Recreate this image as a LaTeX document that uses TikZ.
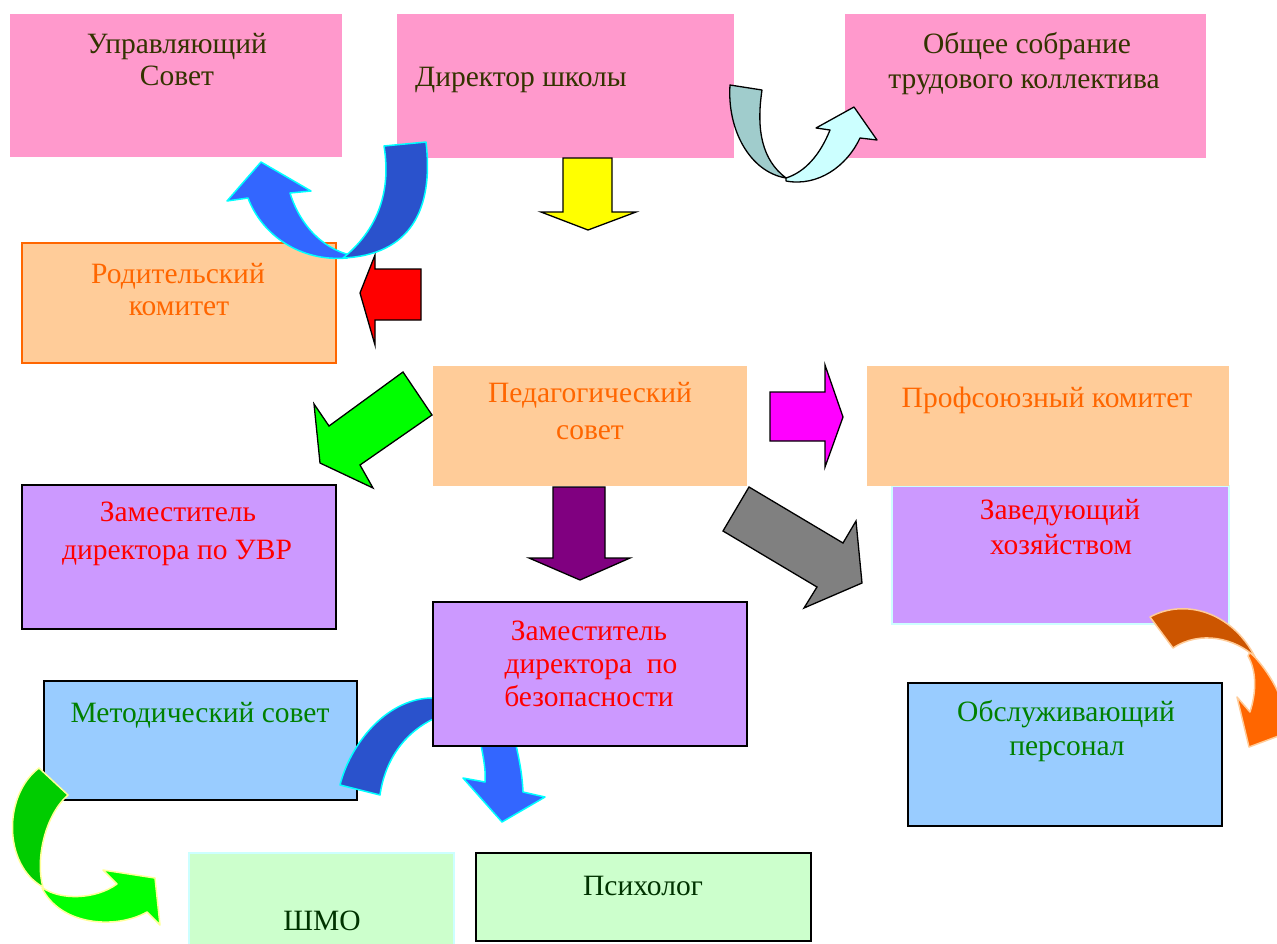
\documentclass[tikz,border=0pt]{standalone}
\usepackage{fontspec}
\setmainfont{Liberation Serif}
\definecolor{pinkc}{HTML}{FF99CC}
\definecolor{peach}{HTML}{FFCC99}
\definecolor{orangec}{HTML}{FF6600}
\definecolor{lav}{HTML}{CC99FF}
\definecolor{lblue}{HTML}{99CCFF}
\definecolor{pgreen}{HTML}{CCFFCC}
\definecolor{palecyan}{HTML}{CCFFFF}
\definecolor{olivetx}{HTML}{333300}
\definecolor{greentx}{HTML}{008000}
\definecolor{dgreentx}{HTML}{003300}
\definecolor{redc}{HTML}{FF0000}
\definecolor{darkblue}{HTML}{2A52CC}
\definecolor{brightblue}{HTML}{3366FF}
\definecolor{cyanc}{HTML}{00FFFF}
\definecolor{tealc}{HTML}{A0CCCC}
\definecolor{greenc}{HTML}{00FF00}
\definecolor{darkgreenarr}{HTML}{00CC00}
\definecolor{paleyellow}{HTML}{FFFF99}
\definecolor{yellowc}{HTML}{FFFF00}
\definecolor{magentac}{HTML}{FF00FF}
\definecolor{darkorange}{HTML}{CC5500}
\definecolor{purplec}{HTML}{800080}
\definecolor{grayc}{HTML}{808080}
\begin{document}
\begin{tikzpicture}[x=1pt,y=-1pt,
  box/.style={rectangle, inner sep=0pt, outer sep=0pt, anchor=north west, line width=1.5pt},
  tx/.style={anchor=base, inner sep=0pt, font=\fontsize{29.5}{34}\selectfont},
  blockarrow/.style={draw=black, line width=1.3pt, line join=miter},
  curvecyan/.style={draw=cyanc, line width=1.5pt, line join=round},
  curveblack/.style={draw=black, line width=1.3pt, line join=round},
  curveyellow/.style={draw=paleyellow, line width=1.5pt, line join=round},
  curvepeach/.style={draw=peach, line width=1.5pt, line join=round}]
\useasboundingbox (0,0) rectangle (1277,943);
\clip (0,0) rectangle (1277,943);
\fill[white] (0,0) rectangle (1277,943);

% top row
\node[box, fill=pinkc, minimum width=332, minimum height=143] (upr) at (10,14) {};
\node[box, fill=pinkc, minimum width=337, minimum height=144] (dir) at (397,14) {};
\node[box, fill=pinkc, minimum width=361, minimum height=144] (obsh) at (845,14) {};
\node[tx, text=olivetx] (upr1) at (177,53) {Управляющий};
\node[tx, text=olivetx] (upr2) at (177,85) {Совет};
\node[tx, text=olivetx, anchor=base west] (dir1) at (415,86) {Директор школы};
\node[tx, text=olivetx] (obsh1) at (1027,53) {Общее собрание};
\node[tx, text=olivetx] (obsh2) at (1024,88) {трудового коллектива};

% second row
\node[box, fill=peach, draw=orangec, minimum width=314, minimum height=120] (rod) at (22,243) {};
\node[tx, text=orangec] (rod1) at (178,283) {Родительский};
\node[tx, text=orangec] (rod2) at (179,315) {комитет};

\node[box, fill=lav, draw=palecyan, minimum width=337, minimum height=138] (zav) at (892,486) {};
\node[box, fill=peach, minimum width=314, minimum height=120] (ped) at (433,366) {};
\node[box, fill=peach, minimum width=362, minimum height=120] (prof) at (867,366) {};
\node[tx, text=orangec] (ped1) at (590,402) {Педагогический};
\node[tx, text=orangec] (ped2) at (590,439) {совет};
\node[tx, text=orangec] (prof1) at (1047,407) {Профсоюзный комитет};

\node[box, fill=lav, draw=black, minimum width=314, minimum height=144] (uvr) at (22,485) {};
\node[tx, text=redc] (uvr1) at (178,521) {Заместитель};
\node[tx, text=redc] (uvr2) at (177,559) {директора по УВР};
\node[tx, text=redc] (zav1) at (1060,519) {Заведующий};
\node[tx, text=redc] (zav2) at (1061,554) {хозяйством};

\node[box, fill=lblue, draw=black, minimum width=313, minimum height=119] (met) at (44,681) {};
\node[tx, text=greentx] (met1) at (200,722) {Методический совет};
\node[box, fill=lblue, draw=black, minimum width=314, minimum height=143] (obs) at (908,683) {};
\node[tx, text=greentx] (obs1) at (1066,721) {Обслуживающий};
\node[tx, text=greentx] (obs2) at (1067,755) {персонал};

\node[box, fill=pgreen, draw=palecyan, minimum width=265, minimum height=95] (shmo) at (189,853) {};
\node[tx, text=dgreentx] (shmo1) at (322,930) {ШМО};
\node[box, fill=pgreen, draw=black, minimum width=335, minimum height=88] (psy) at (476,853) {};
\node[tx, text=dgreentx] (psy1) at (643,895) {Психолог};

% bottom blue curved arrows (behind the deputy box)
\filldraw[curvecyan, fill=darkblue] (440,698) -- (430,698) .. controls (385,700) and (350,745) .. (340,785)
  -- (380,795) .. controls (385,760) and (405,730) .. (440,716) -- cycle;
\filldraw[curvecyan, fill=brightblue] (480,740) .. controls (484,760) and (486,772) .. (485,782)
  -- (463,778) -- (502,822) -- (545,797) -- (523,792) .. controls (522,770) and (518,755) .. (515,740) -- cycle;

\node[box, fill=lav, draw=black, minimum width=314, minimum height=144] (bez) at (433,602) {};
\node[tx, text=redc] (bez1) at (589,640) {Заместитель};
\node[tx, text=redc] (bez2) at (591,673) {директора\ \ по};
\node[tx, text=redc] (bez3) at (589,706) {безопасности};

% straight block arrows
\filldraw[blockarrow, fill=yellowc] (563,158) -- (612,158) -- (612,212) -- (636,212) -- (588,230) -- (541,212) -- (563,212) -- cycle;
\filldraw[blockarrow, fill=redc] (421,269) -- (421,320) -- (375,320) -- (375,345) -- (360,293) -- (375,255) -- (375,269) -- cycle;
\filldraw[blockarrow, fill=magentac] (770,392) -- (825,392) -- (825,365) -- (843,417) -- (825,467) -- (825,441) -- (770,441) -- cycle;
\filldraw[blockarrow, fill=purplec] (553,487) -- (605,487) -- (605,558) -- (630,558) -- (580,580) -- (529,558) -- (553,558) -- cycle;
\filldraw[blockarrow, fill=greenc] (403,372) -- (432,415) -- (360,465) -- (373,488) -- (320,463) -- (314,404) -- (329,426) -- cycle;
\filldraw[blockarrow, fill=grayc] (749,487) -- (843,543) -- (856,521) -- (862,583) -- (804,608) -- (817,587) -- (723,531) -- cycle;

% blue curved arrow at top left
\filldraw[curvecyan, fill=brightblue] (347,258) .. controls (300,262) and (262,235) .. (248,198)
  -- (227,201) -- (261,162) -- (311,191) -- (290,193) .. controls (300,225) and (322,248) .. (350,255) -- cycle;
\filldraw[curvecyan, fill=darkblue] (384,146) -- (426,142) .. controls (434,210) and (410,255) .. (343,258)
  .. controls (375,232) and (392,195) .. (384,146) -- cycle;

% teal curved arrow at top right
\filldraw[curveblack, fill=palecyan] (786,181) .. controls (818,187) and (847,166) .. (860,138)
  -- (877,140) -- (854,107) -- (816,128) -- (830,130) .. controls (820,155) and (805,172) .. (786,178) -- cycle;
\filldraw[curveblack, fill=tealc] (730,85) -- (762,90) .. controls (756,130) and (762,160) .. (786,178)
  .. controls (750,172) and (727,130) .. (730,85) -- cycle;

% green curved arrow bottom left
\filldraw[curveyellow, fill=greenc] (42,888) .. controls (60,925) and (115,930) .. (147,912)
  -- (160,925) -- (155,878) -- (103,870) -- (117,884) .. controls (95,900) and (60,900) .. (43,888) -- cycle;
\filldraw[curveyellow, fill=darkgreenarr] (39,768) -- (68,795) .. controls (45,815) and (35,860) .. (43,887)
  .. controls (3,865) and (3,795) .. (39,768) -- cycle;

% orange curved arrow right
\filldraw[curvepeach, fill=orangec] (1250,652) .. controls (1270,672) and (1285,700) .. (1285,720)
  -- (1300,728) -- (1249,747) -- (1237,697) -- (1250,712) .. controls (1257,690) and (1256,670) .. (1248,656) -- cycle;
\filldraw[curvepeach, fill=darkorange] (1150,617) .. controls (1185,598) and (1232,612) .. (1255,657)
  .. controls (1235,638) and (1200,630) .. (1173,648) -- cycle;
\end{tikzpicture}
\end{document}
